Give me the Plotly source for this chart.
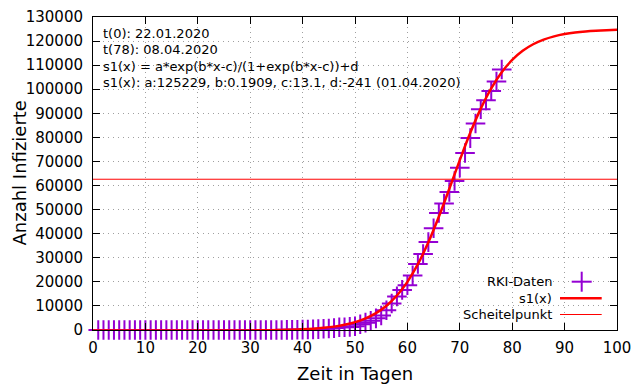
import plotly.graph_objects as go

# ---- data ----
days = list(range(1, 79))
cases = [
    0, 0, 0, 0, 1, 4, 4, 5, 7, 8,            # 1-10
    10, 12, 12, 12, 13, 14, 14, 14, 16, 16,   # 11-20
    16, 16, 16, 16, 16, 16, 16, 16, 16, 16,   # 21-30
    16, 16, 16, 16, 18, 26, 53, 66, 117, 150, # 31-40
    188, 240, 349, 534, 639, 795, 1112, 1139, 1296, 1567,       # 41-50
    2369, 3062, 3795, 4838, 6012, 8198, 10999, 13957, 16662, 18610,  # 51-60
    22672, 27436, 31554, 36508, 42288, 48582, 52547, 57298, 61913, 67366,  # 61-70
    73522, 79696, 85778, 91714, 95391, 99225, 103228, 108202,  # 71-78
]

# fitted curve s1(x)
fit_x = [0, 10, 20, 30, 34, 36, 38, 40, 42, 44, 46, 48, 50, 52, 54, 56, 58, 60,
         62, 64, 66, 68, 70, 72, 74, 76, 78, 80, 82, 84, 86, 88, 90, 92, 94, 96, 98, 100]
fit_y = [-241, -239, -229, -162, -73, 6, 120, 287, 531, 887, 1405, 2156, 3238, 4792,
         6996, 10083, 14323, 20005, 27340, 36410, 47020, 58660, 70560, 81890, 91960,
         100380, 107072, 112180, 115950, 118673, 120609, 121964, 122908, 123561,
         124010, 124319, 124530, 124675]

scheitel_y = 62614

info_lines = [
    "t(0): 22.01.2020",
    "t(78): 08.04.2020",
    "s1(x) = a*exp(b*x-c)/(1+exp(b*x-c))+d",
    "s1(x): a:125229, b:0.1909, c:13.1, d:-241 (01.04.2020)",
]
legend_labels = ["RKI-Daten", "s1(x)", "Scheitelpunkt"]
x_ticks = list(range(0, 101, 10))
y_ticks = list(range(0, 130001, 10000))

PURPLE = "#9400D3"
RED = "#FF0000"
FONT = "DejaVu Sans"

fig = go.Figure()
fig.add_trace(go.Scatter(
    x=days, y=cases, mode="markers", name=legend_labels[0],
    marker=dict(symbol="cross-thin-open", size=14, color=PURPLE,
                line=dict(color=PURPLE, width=2)),
    cliponaxis=False, showlegend=False))
fig.add_trace(go.Scatter(
    x=fit_x, y=fit_y, mode="lines", name=legend_labels[1],
    line=dict(color=RED, width=2.5, shape="spline"), showlegend=False))
fig.add_trace(go.Scatter(
    x=[0, 100], y=[scheitel_y, scheitel_y], mode="lines", name=legend_labels[2],
    line=dict(color=RED, width=1), showlegend=False))

# the page body adds an 8px offset; figure is sized so that it fills the window
OFF = 8
W, H = 640 - OFF, 384 - OFF
L, T, R, B = 93 - OFF, 17 - OFF, 23, 54   # plot area at page px 93..617 x 17..330
pw, ph = W - L - R, H - T - B


def px(xp):
    return (xp - 93) / pw


def py(yp):
    return (330 - yp) / ph


shapes = [
    # opaque legend background
    dict(type="rect", xref="paper", yref="paper", x0=px(447), x1=1, y0=0, y1=py(267),
         fillcolor="white", line=dict(width=0), layer="between"),
    # legend samples
    dict(type="line", xref="paper", yref="paper", x0=px(571.7), x1=px(591.7),
         y0=py(281.7), y1=py(281.7), line=dict(color=PURPLE, width=2)),
    dict(type="line", xref="paper", yref="paper", x0=px(581.7), x1=px(581.7),
         y0=py(271.7), y1=py(291.7), line=dict(color=PURPLE, width=2)),
    dict(type="line", xref="paper", yref="paper", x0=px(560), x1=px(601.7),
         y0=py(298.3), y1=py(298.3), line=dict(color=RED, width=2.5)),
    dict(type="line", xref="paper", yref="paper", x0=px(560), x1=px(601.7),
         y0=py(314.5), y1=py(314.5), line=dict(color=RED, width=1)),
]

annotations = []
for i, t in enumerate(info_lines):
    annotations.append(dict(text=t, xref="paper", yref="paper", x=px(101), y=py(33.5 + 16.3 * i),
                            xanchor="left", yanchor="middle", showarrow=False,
                            font=dict(family=FONT, size=13, color="black")))
for t, yy in zip(legend_labels, [281.7, 298.3, 314.3]):
    annotations.append(dict(text=t, xref="paper", yref="paper", x=px(554), y=py(yy),
                            xanchor="right", yanchor="middle", showarrow=False,
                            font=dict(family=FONT, size=13, color="black")))

# axis titles
annotations.append(dict(text="Zeit in Tagen", xref="paper", yref="paper", x=0.5, y=py(373.5),
                        xanchor="center", yanchor="middle", showarrow=False,
                        font=dict(family=FONT, size=18, color="black")))
annotations.append(dict(text="Anzahl Infizierte", xref="paper", yref="paper", x=px(19), y=0.5,
                        xanchor="center", yanchor="middle", showarrow=False, textangle=-90,
                        borderpad=0,
                        font=dict(family=FONT, size=18, color="black")))

axis_common = dict(
    showline=True, linecolor="black", linewidth=1, mirror="allticks",
    ticks="inside", ticklen=7, tickcolor="black", tickwidth=1,
    showgrid=True, gridcolor="#a0a0a0", griddash="1px,4px", gridwidth=1,
    zeroline=False, tickfont=dict(family=FONT, size=15, color="black"),
    automargin=False,
)

fig.update_layout(
    width=W, height=H, margin=dict(l=L, r=R, t=T, b=B, autoexpand=False),
    paper_bgcolor="white", plot_bgcolor="white",
    font=dict(family=FONT, color="black"),
    shapes=shapes, annotations=annotations, showlegend=False,
    xaxis=dict(range=[0, 100], tickvals=x_ticks, ticktext=[str(v) for v in x_ticks],
               ticklabelstandoff=4, **axis_common),
    yaxis=dict(range=[0, 130000], tickvals=y_ticks, ticktext=[str(v) for v in y_ticks],
               ticklabelstandoff=6, **axis_common),
)

fig.write_html("out.html")
